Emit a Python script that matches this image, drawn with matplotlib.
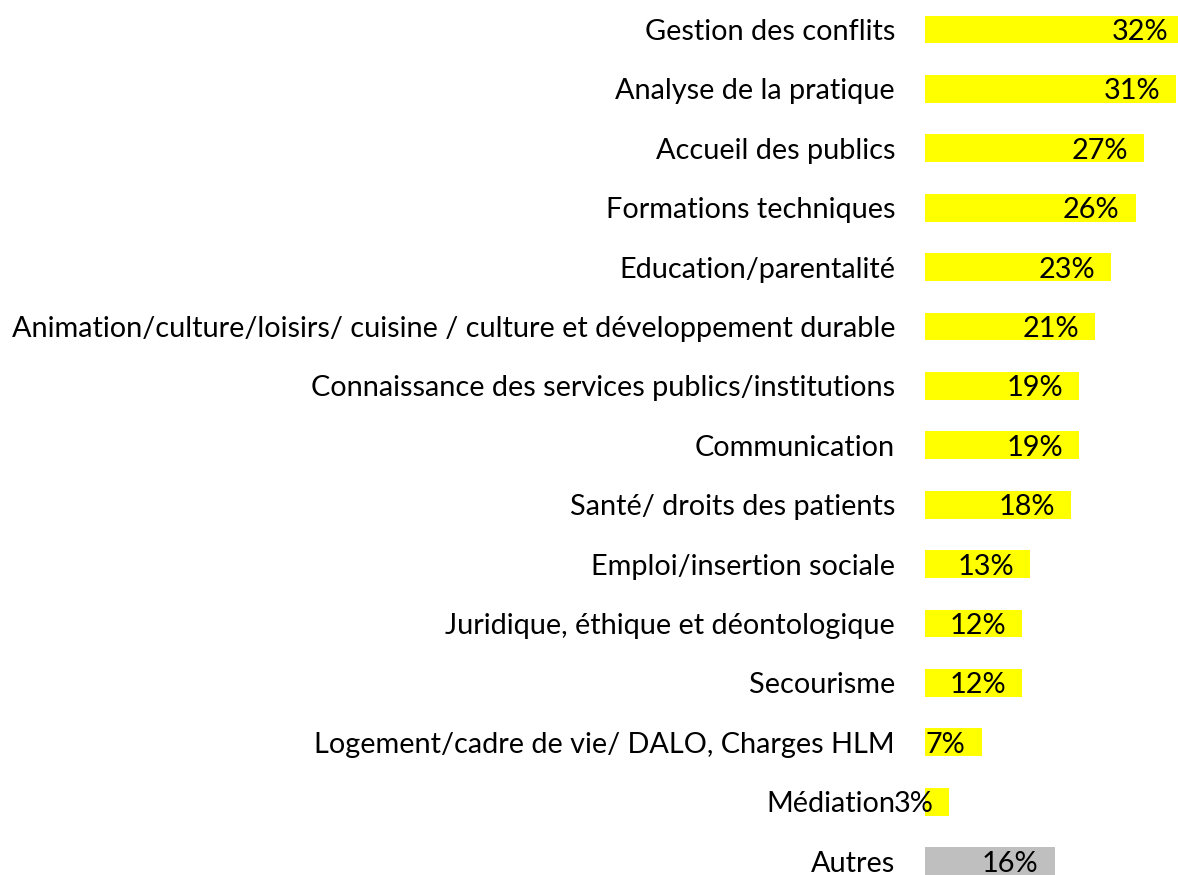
import matplotlib
matplotlib.use("Agg")
import matplotlib.pyplot as plt

categories = [
    "Gestion des conflits",
    "Analyse de la pratique",
    "Accueil des publics",
    "Formations techniques",
    "Education/parentalité",
    "Animation/culture/loisirs/ cuisine / culture et développement durable",
    "Connaissance des services publics/institutions",
    "Communication",
    "Santé/ droits des patients",
    "Emploi/insertion sociale",
    "Juridique, éthique et déontologique",
    "Secourisme",
    "Logement/cadre de vie/ DALO, Charges HLM",
    "Médiation",
    "Autres",
]
values = [32, 31, 27, 26, 23, 21, 19, 19, 18, 13, 12, 12, 7, 3, 16]
colors = ["#FFFF00"] * 14 + ["#BFBFBF"]

W, H = 1178, 875
fig = plt.figure(figsize=(W / 100, H / 100), dpi=100)
plt.rcParams['font.family'] = ['Lato', 'DejaVu Sans']

# axes placement in pixels
x0 = 925
px_per_unit = 8.1
xmax = 40
ax_w = xmax * px_per_unit
row = 59.4
top_center = 29.5
ax_top = top_center - row / 2
ax_bottom = top_center + (len(categories) - 0.5) * row
ax = fig.add_axes([x0 / W, 1 - ax_bottom / H, ax_w / W, (ax_bottom - ax_top) / H])

y = list(range(len(categories)))
bars = ax.barh(y, values, height=0.47, color=colors)
ax.set_xlim(0, xmax)
ax.set_ylim(len(categories) - 0.5, -0.5)

fs = 20.8
ax.set_yticks(y)
ax.set_yticklabels(categories, fontsize=fs, color="black")
ax.tick_params(axis="y", length=0, pad=21.6)
ax.set_xticks([])
for s in ax.spines.values():
    s.set_visible(False)

for yi, v in zip(y, values):
    ax.annotate(f"{v}%", xy=(v, yi), xytext=(-11.5, 0), textcoords="offset points",
                ha="right", va="center_baseline", fontsize=fs, color="black")

fig.savefig("out.png", dpi=100)
